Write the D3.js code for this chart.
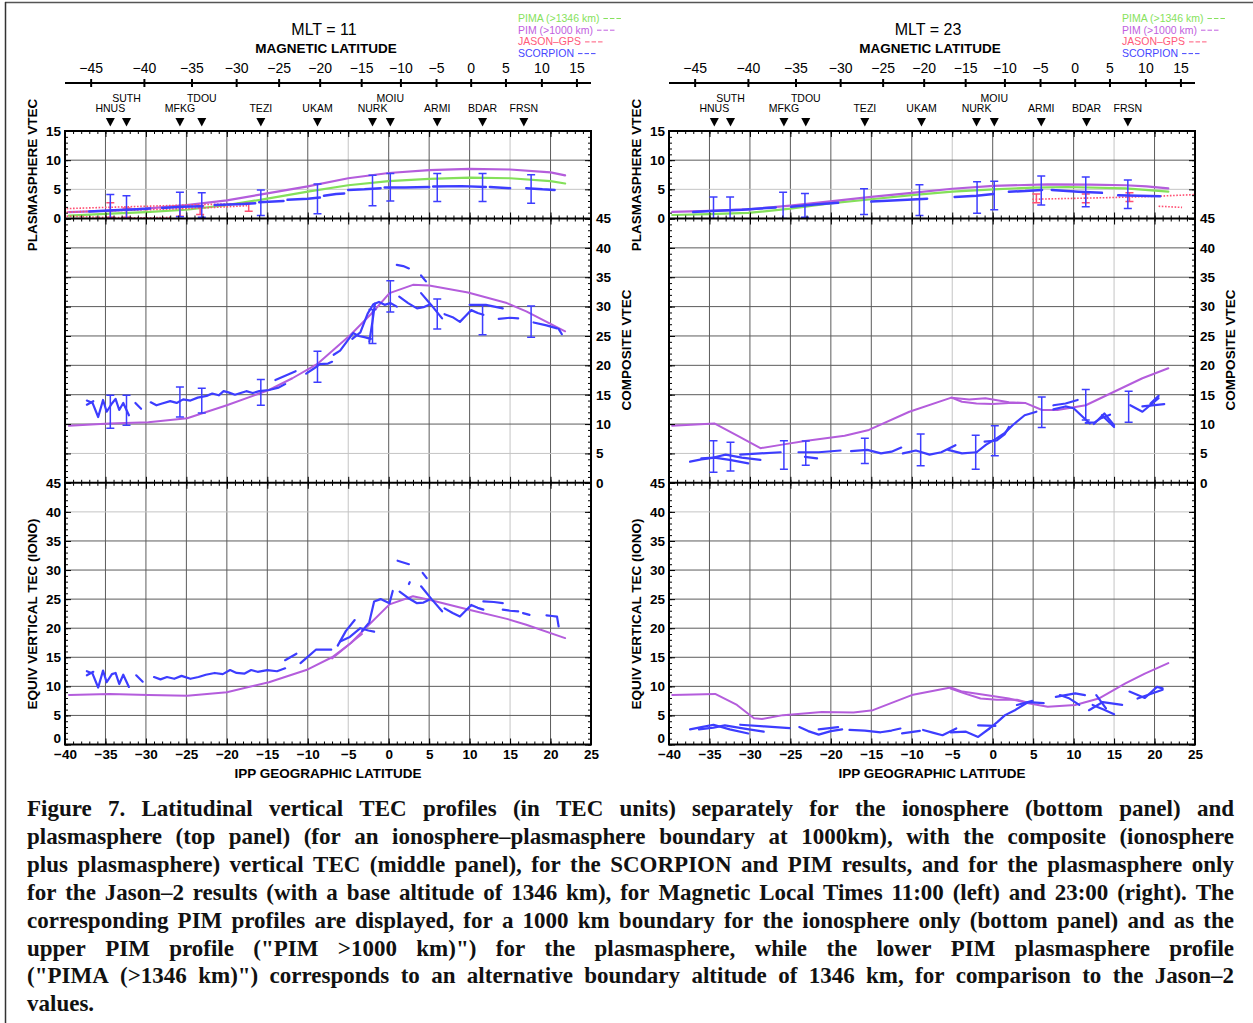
<!DOCTYPE html>
<html lang="en">
<head>
<meta charset="UTF-8">
<title>Figure 7 - Latitudinal vertical TEC profiles</title>
<script src="https://d3js.org/d3.v7.min.js"></script>
<style>
  body { margin: 0; background: #fff; }
  svg { display: block; }
</style>
</head>
<body>
<div id="chart"></div>
<script>
// ---------- axes / labels ----------
var geoTicks = [-40, -35, -30, -25, -20, -15, -10, -5, 0, 5, 10, 15, 20, 25];
var magTicks = [-45, -40, -35, -30, -25, -20, -15, -10, -5, 0, 5, 10, 15];
// geographic latitude under each magnetic latitude tick
var magTickGeo = [-36.83, -30.25, -24.37, -18.85, -13.6, -8.53, -3.4, 1.45, 5.85, 10.13, 14.43, 18.87, 23.2];
var stations = ["HNUS", "SUTH", "MFKG", "TDOU", "TEZI", "UKAM", "NURK", "MOIU", "ARMI", "BDAR", "FRSN"];
var stationGeo = [-34.4, -32.4, -25.8, -23.1, -15.8, -8.8, -2.0, 0.2, 6.0, 11.6, 16.7];
var stationUpper = [0, 1, 0, 1, 0, 0, 0, 1, 0, 0, 0];
var legendNames = ["PIMA (>1346 km)", "PIM (>1000 km)", "JASON\u2013GPS", "SCORPION"];
var legendColors = ["#86e25c", "#c15fe0", "#ff5a7a", "#4646ff"];

// ---------- MLT = 11 ----------
var pim11Plasma = [[-39.5,1.1],[-35,1.3],[-30,1.7],[-25,2.3],[-20,3.1],[-15,4.3],[-10,5.5],[-5,6.9],[0,7.8],[5,8.3],[10,8.5],[15,8.4],[20,7.9],[21.8,7.4]];
var pima11Plasma = [[-39.5,0.5],[-35,0.8],[-30,1.1],[-25,1.5],[-20,2.3],[-15,3.4],[-10,4.6],[-5,5.7],[0,6.4],[5,6.8],[10,7.0],[15,6.9],[20,6.4],[21.8,6.0]];
var scorp11Plasma = [
  [[-37,1.2],[-34,1.4],[-31,1.6],[-29.5,1.7]],
  [[-28,1.8],[-25.5,2.0],[-23,2.1]],
  [[-21.5,2.3],[-18,2.5],[-16.5,2.6]],
  [[-16,2.8],[-13,3.0]],
  [[-12.5,3.2],[-10,3.4],[-8.5,3.6]],
  [[-8,3.9],[-6.5,4.2],[-5.5,4.3]],
  [[-5,4.9],[-3,5.0],[-1,5.2]],
  [[-0.5,5.3],[2,5.3],[5,5.4]],
  [[5.5,5.5],[9,5.55],[12,5.4]],
  [[12.5,5.4],[15,5.2]],
  [[17,5.2],[19,5.0],[20.5,4.9]]
];
var scorp11PlasmaErr = [[-34.4,0,4.1],[-32.4,0,3.9],[-25.8,0.3,4.5],[-23.1,0.2,4.4],[-15.8,0.5,4.9],[-8.8,0.8,5.9],[-2.0,2.2,7.4],[0.2,3.0,7.7],[6.0,2.9,7.7],[11.6,2.9,7.7],[17.6,2.6,7.5]];
var jason11Plasma = [
  [[-39.8,1.7],[-35,1.9],[-30,2.1],[-25,2.3],[-20,2.5],[-17,2.6]],
  [[-39.8,1.1],[-35,1.3],[-30,1.5],[-25,1.7],[-20,2.0],[-17.5,2.2]],
  [[-39.8,0.4],[-35,0.2],[-30,0.1],[-27,0.2]]
];
var jason11Err = [[-34.4,0.2,2.7],[-32.4,0.2,1.8],[-25.8,0.4,1.9],[-23.3,0.7,2.2],[-17.3,1.25,2.6]];

var pim11Comp = [[-39.5,9.7],[-34.5,10.1],[-29.7,10.3],[-24.9,11.0],[-20,13.2],[-14.8,15.8],[-11.9,17.8],[-8.75,20.3],[-4.7,25.2],[-2,29.0],[0.1,32.3],[3,33.7],[5,33.6],[9.8,32.4],[14.6,30.6],[17,29.2],[21.8,25.8]];
var scorp11Comp = [
  [[-37.3,14.0],[-36.6,13.6],[-35.9,11.2],[-35.3,14.1],[-34.85,12.1],[-34.2,13.5],[-33.75,14.3],[-33.3,12.4],[-32.8,13.6],[-32.1,11.5]],
  [[-37.3,13.3],[-36.5,13.9]],
  [[-31.3,13.6],[-30.6,12.6]],
  [[-29.4,13.7],[-28.7,13.2],[-28.0,13.5],[-27.0,13.9],[-26.2,13.6],[-25.4,14.2],[-24.5,14.0],[-23.6,14.5],[-22.5,14.8],[-21.8,15.2],[-21.0,14.9],[-20.4,15.6],[-19.8,15.4],[-19.0,15.0],[-18.3,15.3],[-17.6,15.6],[-16.8,15.3],[-16.0,15.6],[-14.8,15.8],[-13.6,16.2],[-12.8,16.8]],
  [[-14.0,17.5],[-12.5,18.4],[-11.5,19.0]],
  [[-10.2,18.6],[-9.2,19.5],[-8.5,20.2],[-7.5,20.3],[-7.0,20.6]],
  [[-6.8,21.8],[-6.0,22.5],[-5.2,24.0],[-4.4,25.5],[-3.7,25.0],[-3.0,24.8],[-2.2,24.5]],
  [[-4.5,24.5],[-3.5,25.6],[-2.6,28.8],[-1.9,30.4],[-1.2,30.8],[-0.5,30.3],[0.2,30.6],[1.0,30.0]],
  [[-2.4,24.0],[-2.0,27.5],[-1.7,30.5]],
  [[1.0,37.1],[1.8,36.9],[2.5,36.5]],
  [[4.0,35.3],[4.6,34.3]],
  [[1.3,31.7],[2.4,30.6],[3.5,29.7],[4.3,29.9],[5.0,30.3]],
  [[4.0,32.3],[5.3,30.2],[6.6,28.0]],
  [[6.9,28.7],[7.9,28.2],[8.8,27.4],[9.5,28.4],[10.2,29.4],[11.0,28.9],[11.7,28.6]],
  [[10.0,30.3],[12.0,30.3],[14.1,29.7]],
  [[13.6,27.9],[15.0,28.1],[16.0,28.0]],
  [[17.9,27.3],[19.5,26.8],[20.8,26.3]],
  [[21.0,26.2],[21.4,25.3]]
];
var scorp11CompErr = [[-34.4,9.3,14.9],[-32.4,9.8,14.9],[-25.8,11.2,16.3],[-23.1,11.9,16.1],[-15.8,13.2,17.6],[-8.8,17.1,22.4],[-2.0,23.7,29.5],[0.2,29.1,34.4],[6.0,26.2,31.3],[11.6,25.2,30.3],[17.6,24.8,30.1]];

var pim11Iono = [[-39.5,8.5],[-34.5,8.7],[-29.7,8.5],[-24.9,8.4],[-20,9.0],[-14.8,10.7],[-10,12.9],[-7,15.0],[-4.7,17.4],[-2.5,20.5],[0.1,24.1],[3.0,25.5],[5,24.9],[9.8,23.2],[14.6,21.6],[17,20.6],[21.8,18.3]];
var pim11IonoB = [[-7,14.8],[-5.5,16.5],[-4.2,18.0],[-3.3,19.0]];
var scorp11Iono = [
  [[-37.3,12.6],[-36.6,12.2],[-35.9,9.8],[-35.3,12.7],[-34.85,10.7],[-34.2,12.1],[-33.75,12.3],[-33.3,10.4],[-32.8,12.0],[-32.1,9.9]],
  [[-37.3,11.9],[-36.5,12.5]],
  [[-31.2,11.9],[-30.4,10.8]],
  [[-29.0,11.6],[-28.2,11.2],[-27.4,11.6],[-26.5,11.3],[-25.6,11.8],[-24.5,11.3],[-23.5,11.6],[-22.6,12.0],[-21.5,12.3],[-20.5,12.1],[-19.6,12.8],[-18.8,12.3],[-17.8,12.2],[-17.0,12.8],[-16.2,12.5],[-15.0,12.8],[-13.8,12.6],[-12.8,13.1]],
  [[-12.8,14.5],[-11.4,15.6]],
  [[-10.9,14.0],[-9.9,15.2],[-9.0,16.3],[-7.1,16.3]],
  [[-6.3,17.0],[-5.3,19.5],[-4.2,21.4]],
  [[-6.0,17.7],[-4.8,18.5],[-3.5,20.0],[-2.5,19.6],[-1.8,19.4]],
  [[-3.3,19.5],[-2.4,21.0],[-1.8,24.6],[-1.0,25.0],[0.1,24.3],[0.5,26.4]],
  [[1.1,31.6],[1.8,31.3],[2.5,31.0]],
  [[4.2,29.5],[4.7,28.6]],
  [[2.5,27.6],[2.6,27.9]],
  [[1.35,26.3],[2.4,25.2],[3.5,24.3],[4.3,24.4],[5.0,24.9]],
  [[4.0,27.2],[5.3,25.0],[6.6,22.9]],
  [[6.9,23.4],[7.9,22.6],[8.8,22.0],[9.5,23.0],[10.2,24.0],[11.0,23.5],[11.7,23.2]],
  [[11.7,24.6],[13.0,24.5],[14.1,24.3]],
  [[14.1,23.2],[15.0,23.0],[16.0,22.9]],
  [[16.6,22.6],[17.4,22.3]],
  [[19.5,22.2],[20.2,22.1],[20.8,22.0],[21.0,20.3]]
];

// ---------- MLT = 23 ----------
var pim23Plasma = [[-39.6,1.15],[-35,1.3],[-30.2,1.55],[-25,2.2],[-20.1,2.95],[-15,3.7],[-10,4.4],[-5,5.1],[0.1,5.6],[6.8,5.85],[12,5.8],[16.4,5.7],[19,5.5],[21.7,5.15]];
var pima23Plasma = [[-39.6,0.6],[-35,0.75],[-30.2,0.95],[-25,1.7],[-20.1,2.6],[-15,3.3],[-10,4.0],[-5,4.6],[0.1,5.0],[5,5.3],[9.2,5.4],[16.4,5.15],[21.7,4.6]];
var scorp23Plasma = [
  [[-37,1.1],[-34.8,1.3],[-31,1.5],[-26.8,1.9]],
  [[-24.9,2.0],[-22,2.4],[-19.1,2.7]],
  [[-15,2.9],[-12.4,3.1],[-8.1,3.4]],
  [[-4.7,3.7],[-2,3.9],[0.1,4.2]],
  [[2.0,4.6],[4,4.7],[6.1,4.9]],
  [[7.3,4.9],[10.6,4.6],[13.5,4.4]],
  [[15.5,4.0],[18,3.9],[20.7,3.8]]
];
var scorp23PlasmaErr = [[-34.5,0,3.7],[-32.45,0,3.7],[-25.9,0,4.5],[-23.2,0.2,4.3],[-15.9,0.7,5.1],[-9.05,0.5,5.8],[-1.93,0.9,6.3],[0.19,1.5,6.4],[6.0,2.3,7.3],[11.5,2.0,7.1],[16.7,1.7,6.6]];
var jason23Plasma = [
  [[4.9,3.3],[10,3.45],[15,3.6],[20,3.8],[25,4.1]],
  [[20.5,2.1],[23.4,1.9]]
];
var jason23Err = [[5.4,2.7,4.2],[11.5,2.7,4.2],[16.9,2.9,4.4]];

var pim23Comp = [[-39.6,9.7],[-34.4,10.1],[-31.5,8.0],[-28.7,5.9],[-26,6.5],[-23.2,7.1],[-18.3,8.0],[-15.3,9.0],[-10.3,12.1],[-5.1,14.5],[-2.9,14.2],[-0.9,14.4],[2.0,13.7],[4,13.6],[6.1,12.4],[8,12.4],[11.5,13.2],[15,15.5],[18.5,17.8],[21.7,19.5]];
var pim23CompB = [[-5.1,14.5],[-3.8,13.8],[-2,13.5],[0,13.4],[2,13.6],[4,13.6]];
var scorp23Comp = [
  [[-37.4,3.6],[-36,4.0],[-34.4,4.3],[-32.5,3.9],[-30.2,3.3]],
  [[-36,4.15],[-34.5,4.3],[-33,4.8],[-31,4.3],[-28.7,3.9]],
  [[-31.2,4.8],[-28.7,5.0],[-26.2,5.2]],
  [[-24.0,5.2],[-21.5,5.2],[-18.8,5.5]],
  [[-23.2,4.4],[-21.7,4.15]],
  [[-17.5,5.4],[-15.5,5.6],[-13.8,5.0],[-12.5,5.3],[-11.3,6.0]],
  [[-11.1,5.0],[-9.5,5.5],[-7.8,4.8],[-6.35,5.2],[-4.6,6.4]],
  [[-5.5,5.6],[-3.8,5.0],[-2.0,5.2]],
  [[-2.0,5.2],[-0.8,6.5],[0.48,7.56],[1.5,8.5],[2.46,9.8],[3.95,11.5],[5.4,12.1]],
  [[-1.0,7.0],[0.5,7.2],[1.5,8.3],[2.0,9.5]],
  [[7.5,13.2],[9,13.5],[10.5,14.1]],
  [[7.5,12.5],[9,13.0],[10,12.7],[12,10.1]],
  [[13.5,11.5],[15,9.5]],
  [[11.5,10.2],[12.6,10.3],[13.4,11.0],[14.5,11.6]],
  [[12.5,10.0],[13.8,11.8],[15.0,9.8]],
  [[17.0,13.2],[18.5,12.1],[20.5,14.4]],
  [[18.5,13.0],[21.2,13.4]],
  [[19.5,13.5],[20.5,14.8]]
];
var scorp23CompErr = [[-34.5,1.8,7.15],[-32.4,2.0,6.9],[-25.8,2.3,7.15],[-23.1,3.0,7.1],[-15.8,3.3,7.6],[-8.9,2.9,8.3],[-2.1,2.3,8.1],[0.26,4.6,9.7],[6.06,9.4,14.6],[11.5,10.7,15.9],[16.8,10.3,15.6]];

var pim23Iono = [[-39.6,8.5],[-34.3,8.7],[-31.6,6.8],[-29.5,4.5],[-28.5,4.4],[-25.9,5.05],[-21.1,5.6],[-17.2,5.5],[-14.8,5.9],[-10.0,8.5],[-5.2,9.8],[-3.75,9.1],[-0.87,8.5],[2.0,7.9],[4.4,7.1],[6.8,6.5],[10.2,6.8],[13.1,7.9],[16.4,10.5],[18.8,12.2],[21.7,14.0]];
var pim23IonoB = [[-5.2,9.6],[-3.5,8.8],[-1.5,7.9],[0.5,7.7],[3,7.7],[4.4,7.2]];
var scorp23Iono = [
  [[-37.4,2.6],[-36,3.0],[-34.5,3.4],[-32.5,2.6],[-30.2,1.9]],
  [[-36.3,2.6],[-34.5,2.9],[-33.1,3.3],[-30.5,2.7],[-28.3,2.2]],
  [[-31.2,3.4],[-28.2,3.1],[-25.1,2.8]],
  [[-23.9,3.0],[-22.8,2.3],[-21.5,1.7],[-20,2.3],[-18.6,2.6]],
  [[-21.5,2.6],[-19.1,3.0]],
  [[-17.7,2.5],[-15.8,2.4],[-13.85,2.1],[-12.5,2.4],[-11.4,2.75]],
  [[-11.2,1.9],[-9.0,2.35]],
  [[-8.6,2.5],[-7.3,2.0],[-6.2,1.6],[-4.5,2.75]],
  [[-5.2,2.1],[-3.3,2.2],[-1.8,1.3],[-0.4,2.75]],
  [[-1.8,3.3],[0.33,3.2]],
  [[-0.4,2.75],[0.6,3.9],[1.53,5.05],[2.74,5.9],[4.4,7.3],[6.3,7.1]],
  [[3.0,6.8],[4.9,7.5]],
  [[7.8,8.2],[10.2,8.8],[11.4,8.5]],
  [[8.3,8.5],[9.5,7.9],[10.7,6.8]],
  [[11.9,5.9],[13.6,7.3],[16.0,6.8]],
  [[12.35,6.8],[13.7,6.0],[15.0,5.2]],
  [[12.8,8.5],[14.0,6.2]],
  [[16.9,9.1],[18.8,8.0],[20.3,9.9],[21.0,9.65]],
  [[17.9,7.9],[21.0,9.4]]
];

var captionLines = [
  "Figure 7. Latitudinal vertical TEC profiles (in TEC units) separately for the ionosphere (bottom panel) and",
  "plasmasphere (top panel) (for an ionosphere\u2013plasmasphere boundary at 1000km), with the composite (ionosphere",
  "plus plasmasphere) vertical TEC (middle panel), for the SCORPION and PIM results, and for the plasmasphere only",
  "for the Jason\u20132 results (with a base altitude of 1346 km), for Magnetic Local Times 11:00 (left) and 23:00 (right). The",
  "corresponding PIM profiles are displayed, for a 1000 km boundary for the ionosphere only (bottom panel) and as the",
  "upper PIM profile (\"PIM >1000 km)\") for the plasmasphere, while the lower PIM plasmasphere profile",
  "(\"PIMA (>1346 km)\") corresponds to an alternative boundary altitude of 1346 km, for comparison to the Jason\u20132",
  "values."
];

// ---------- layout ----------
var W = 1253, H = 1023;
var yTop = 131, yDiv1 = 218.5, yDiv2 = 482.8, yBottom = 744.5;
var SANS = "'Liberation Sans', Arial, sans-serif";
var C_BLUE = "#3d3dff", C_PIM = "#b45ddc", C_PIMA = "#84e05a", C_JASON = "#ff4f72";

var plots = [
  { x0: 65, x1: 591, mlt: "11",
    pimPlasma: [pim11Plasma], pimaPlasma: pima11Plasma, scorpPlasma: scorp11Plasma, scorpPlasmaErr: scorp11PlasmaErr,
    jasonPlasma: jason11Plasma, jasonErr: jason11Err,
    pimComp: [pim11Comp], scorpComp: scorp11Comp, scorpCompErr: scorp11CompErr,
    pimIono: [pim11Iono, pim11IonoB], scorpIono: scorp11Iono },
  { x0: 669, x1: 1195, mlt: "23",
    pimPlasma: [pim23Plasma], pimaPlasma: pima23Plasma, scorpPlasma: scorp23Plasma, scorpPlasmaErr: scorp23PlasmaErr,
    jasonPlasma: jason23Plasma, jasonErr: jason23Err,
    pimComp: [pim23Comp, pim23CompB], scorpComp: scorp23Comp, scorpCompErr: scorp23CompErr,
    pimIono: [pim23Iono, pim23IonoB], scorpIono: scorp23Iono }
];

var svg = d3.select("#chart").append("svg")
    .attr("width", W)
    .attr("height", H)
    .attr("font-family", SANS);

// outer frame (top and left edges)
svg.append("line").attr("x1", 5).attr("y1", 2.5).attr("x2", W).attr("y2", 2.5)
    .attr("stroke", "#555").attr("stroke-width", 1.5);
svg.append("line").attr("x1", 5.5).attr("y1", 2).attr("x2", 5.5).attr("y2", H)
    .attr("stroke", "#333").attr("stroke-width", 1.5);

plots.forEach(function (p, pi) {
    var g = svg.append("g");
    var x = d3.scaleLinear().domain([-40, 25]).range([p.x0, p.x1]);
    var cx = (p.x0 + p.x1) / 2;

    var panels = [
        { y: d3.scaleLinear().domain([0, 15]).range([yDiv1, yTop]), max: 15, light: [5] },
        { y: d3.scaleLinear().domain([0, 45]).range([yDiv2, yDiv1]), max: 45, light: [5] },
        { y: d3.scaleLinear().domain([0, 45]).range([yBottom, yDiv2]), max: 45, light: [40] }
    ];

    // grid
    panels.forEach(function (pn) {
        var grid = g.append("g");
        grid.selectAll("line.v").data(geoTicks.slice(1, -1)).join("line")
            .attr("class", "v")
            .attr("x1", function (d) { return x(d); })
            .attr("x2", function (d) { return x(d); })
            .attr("y1", pn.y(0)).attr("y2", pn.y(pn.max))
            .attr("stroke", function (d) { return (d === -5 || d === 15) ? "#c4c4c4" : "#5c5c5c"; })
            .attr("stroke-width", 1);
        grid.selectAll("line.h").data(d3.range(5, pn.max, 5)).join("line")
            .attr("class", "h")
            .attr("x1", p.x0).attr("x2", p.x1)
            .attr("y1", function (d) { return pn.y(d); })
            .attr("y2", function (d) { return pn.y(d); })
            .attr("stroke", function (d) { return pn.light.indexOf(d) >= 0 ? "#c4c4c4" : "#5c5c5c"; })
            .attr("stroke-width", 1);
    });

    // clip per panel
    panels.forEach(function (pn, i) {
        var id = "clip" + pi + "_" + i;
        svg.append("clipPath").attr("id", id).append("rect")
            .attr("x", p.x0).attr("y", pn.y(pn.max))
            .attr("width", p.x1 - p.x0).attr("height", pn.y(0) - pn.y(pn.max));
        pn.g = g.append("g").attr("clip-path", "url(#" + id + ")");
    });

    function drawLine(layer, y, pts, color, width, dash) {
        layer.append("path").datum(pts)
            .attr("d", d3.line().x(function (d) { return x(d[0]); }).y(function (d) { return y(d[1]); }))
            .attr("fill", "none")
            .attr("stroke", color)
            .attr("stroke-width", width)
            .attr("stroke-linejoin", "round")
            .attr("stroke-linecap", dash ? "butt" : "round")
            .attr("stroke-dasharray", dash || null);
    }
    function drawErr(layer, y, rows, color) {
        var eg = layer.append("g").attr("stroke", color).attr("stroke-width", 1.5);
        eg.selectAll("line.s").data(rows).join("line").attr("class", "s")
            .attr("x1", function (d) { return x(d[0]); }).attr("x2", function (d) { return x(d[0]); })
            .attr("y1", function (d) { return y(d[1]); }).attr("y2", function (d) { return y(d[2]); });
        [1, 2].forEach(function (k) {
            eg.selectAll("line.c" + k).data(rows).join("line").attr("class", "c" + k)
                .attr("x1", function (d) { return x(d[0]) - 4; }).attr("x2", function (d) { return x(d[0]) + 4; })
                .attr("y1", function (d) { return y(d[k]); }).attr("y2", function (d) { return y(d[k]); });
        });
    }

    // top panel: plasmasphere
    var t = panels[0];
    drawLine(t.g, t.y, p.pimaPlasma, C_PIMA, 2.2);
    p.pimPlasma.forEach(function (s) { drawLine(t.g, t.y, s, C_PIM, 2.2); });
    p.jasonPlasma.forEach(function (s) { drawLine(t.g, t.y, s, C_JASON, 1.6, "1.6,1.6"); });
    drawErr(t.g, t.y, p.jasonErr, C_JASON);
    p.scorpPlasma.forEach(function (s) { drawLine(t.g, t.y, s, C_BLUE, 2.5); });
    drawErr(t.g, t.y, p.scorpPlasmaErr, C_BLUE);

    // middle panel: composite
    var m = panels[1];
    p.pimComp.forEach(function (s) { drawLine(m.g, m.y, s, C_PIM, 2); });
    p.scorpComp.forEach(function (s) { drawLine(m.g, m.y, s, C_BLUE, 2.2); });
    drawErr(m.g, m.y, p.scorpCompErr, C_BLUE);

    // bottom panel: ionosphere
    var b = panels[2];
    p.pimIono.forEach(function (s) { drawLine(b.g, b.y, s, C_PIM, 2); });
    p.scorpIono.forEach(function (s) { drawLine(b.g, b.y, s, C_BLUE, 2.2); });

    // frame
    g.append("rect").attr("x", p.x0).attr("y", yTop)
        .attr("width", p.x1 - p.x0).attr("height", yBottom - yTop)
        .attr("fill", "none").attr("stroke", "#000").attr("stroke-width", 2);
    [yDiv1, yDiv2].forEach(function (yy) {
        g.append("line").attr("x1", p.x0).attr("x2", p.x1).attr("y1", yy).attr("y2", yy)
            .attr("stroke", "#000").attr("stroke-width", 2);
    });

    function clean(sel) {
        sel.select(".domain").remove();
        sel.selectAll(".tick line").attr("stroke", "#000").attr("stroke-width", 1);
        return sel;
    }
    var minorX = d3.range(-40, 26);
    var majorX = geoTicks;
    // x ticks on every horizontal border (inward)
    [[yTop, 1], [yDiv1, 1], [yDiv1, -1], [yDiv2, 1], [yDiv2, -1], [yBottom, -1]].forEach(function (e) {
        var dir = e[1];
        [[minorX, 3], [majorX, 6]].forEach(function (tk) {
            var ax = d3.axisBottom(x).tickValues(tk[0]).tickSize(dir * tk[1]).tickFormat("");
            clean(g.append("g").attr("transform", "translate(0," + e[0] + ")").call(ax));
        });
    });
    // y ticks on both sides for each panel
    panels.forEach(function (pn) {
        var minorY = d3.range(0, pn.max + 1);
        var majorY = d3.range(0, pn.max + 1, 5);
        [[minorY, 3], [majorY, 6]].forEach(function (tk) {
            clean(g.append("g").attr("transform", "translate(" + p.x0 + ",0)")
                .call(d3.axisLeft(pn.y).tickValues(tk[0]).tickSize(-tk[1]).tickFormat("")));
            clean(g.append("g").attr("transform", "translate(" + p.x1 + ",0)")
                .call(d3.axisRight(pn.y).tickValues(tk[0]).tickSize(-tk[1]).tickFormat("")));
        });
    });

    // tick labels
    function styleLabels(sel) {
        sel.selectAll(".tick line").remove();
        sel.select(".domain").remove();
        sel.attr("font-family", SANS).attr("font-size", 13.5).attr("font-weight", "bold");
        sel.selectAll("text").attr("fill", "#000");
        return sel;
    }
    styleLabels(g.append("g").attr("transform", "translate(0," + yBottom + ")")
        .call(d3.axisBottom(x).tickValues(geoTicks).tickSize(0).tickPadding(5)));
    styleLabels(g.append("g").attr("transform", "translate(" + p.x0 + ",0)")
        .call(d3.axisLeft(panels[0].y).tickValues([0, 5, 10, 15]).tickSize(0).tickPadding(4)));
    var botLeft = styleLabels(g.append("g").attr("transform", "translate(" + p.x0 + ",0)")
        .call(d3.axisLeft(panels[2].y).tickValues(d3.range(0, 46, 5)).tickSize(0).tickPadding(4)));
    // the bottom "0" sits just above the corner like in the original
    botLeft.selectAll(".tick").filter(function (d) { return d === 0; }).select("text").attr("dy", "-0.12em");
    styleLabels(g.append("g").attr("transform", "translate(" + p.x1 + ",0)")
        .call(d3.axisRight(panels[1].y).tickValues(d3.range(0, 46, 5)).tickSize(0).tickPadding(5)));

    // axis titles
    function vTitle(xx, yy, txt) {
        g.append("text").attr("transform", "translate(" + xx + "," + yy + ") rotate(-90)")
            .attr("dy", "0.36em").attr("text-anchor", "middle")
            .attr("font-size", 13.5).attr("font-weight", "bold").text(txt);
    }
    vTitle(p.x0 - 33, 175, "PLASMASPHERE VTEC");
    vTitle(p.x0 - 33, 614, "EQUIV VERTICAL TEC (IONO)");
    vTitle(p.x1 + 35, 350, "COMPOSITE VTEC");
    g.append("text").attr("x", cx).attr("y", 778).attr("text-anchor", "middle")
        .attr("font-size", 13.5).attr("font-weight", "bold").text("IPP GEOGRAPHIC LATITUDE");

    // header: MLT title and magnetic latitude axis
    g.append("text").attr("x", cx - 4).attr("y", 35).attr("text-anchor", "middle")
        .attr("font-size", 16).text("MLT = " + p.mlt);
    g.append("text").attr("x", cx - 2).attr("y", 53).attr("text-anchor", "middle")
        .attr("font-size", 13.5).attr("font-weight", "bold").text("MAGNETIC LATITUDE");

    var mag = d3.scaleLinear().domain(magTicks).range(magTickGeo.map(function (v) { return x(v); }));
    var magY = 83;
    g.append("line").attr("x1", p.x0).attr("x2", p.x1).attr("y1", magY).attr("y2", magY)
        .attr("stroke", "#000").attr("stroke-width", 2);
    var magAxis = g.append("g").attr("transform", "translate(0," + magY + ")")
        .call(d3.axisTop(mag).tickValues(magTicks).tickSize(4).tickPadding(6));
    magAxis.select(".domain").remove();
    magAxis.selectAll(".tick line").attr("stroke", "#000").attr("stroke-width", 2);
    magAxis.selectAll(".tick").append("line").attr("y1", 0).attr("y2", 4)
        .attr("stroke", "#000").attr("stroke-width", 2);
    magAxis.attr("font-family", SANS).attr("font-size", 14);
    magAxis.selectAll("text").attr("fill", "#000");

    // stations
    var st = g.append("g").selectAll("g").data(stations).join("g")
        .attr("transform", function (d, i) { return "translate(" + x(stationGeo[i]) + ",0)"; });
    st.append("path").attr("d", "M-4.5,118 L4.5,118 L0,126.5 Z").attr("fill", "#000");
    st.append("text").attr("y", function (d, i) { return stationUpper[i] ? 102 : 111.5; })
        .attr("text-anchor", "middle").attr("font-size", 10.5).text(function (d) { return d; });

    // legend
    var lg = g.append("g").attr("font-size", 10.5);
    legendNames.forEach(function (name, i) {
        var ly = 22 + i * 11.7;
        var tx = lg.append("text").attr("x", p.x0 + 453).attr("y", ly)
            .attr("fill", legendColors[i]).text(name);
        var len = tx.node().getComputedTextLength();
        lg.append("line").attr("x1", p.x0 + 453 + len + 4).attr("x2", p.x0 + 453 + len + 23)
            .attr("y1", ly - 3.5).attr("y2", ly - 3.5)
            .attr("stroke", legendColors[i]).attr("stroke-width", 1)
            .attr("stroke-dasharray", "4.5,2");
    });
});

// ---------- caption (justified lines) ----------
var capX0 = 27, capX1 = 1234;
var cap = svg.append("g")
    .attr("font-family", "'Liberation Serif', 'Times New Roman', serif")
    .attr("font-weight", "bold")
    .attr("font-size", 23)
    .attr("fill", "#111");
var probe = cap.append("text").attr("x", -1000).attr("y", -1000);
captionLines.forEach(function (line, i) {
    var words = line.split(" ");
    var widths = words.map(function (w) { probe.text(w); return probe.node().getComputedTextLength(); });
    var total = d3.sum(widths);
    var last = i === captionLines.length - 1;
    var gap = last ? 5.5 : (capX1 - capX0 - total) / (words.length - 1);
    var txt = cap.append("text").attr("y", 816 + i * 27.9);
    var pos = capX0;
    words.forEach(function (w, k) {
        txt.append("tspan").attr("x", pos).text(w);
        pos += widths[k] + gap;
    });
});
probe.remove();
</script>
</body>
</html>
